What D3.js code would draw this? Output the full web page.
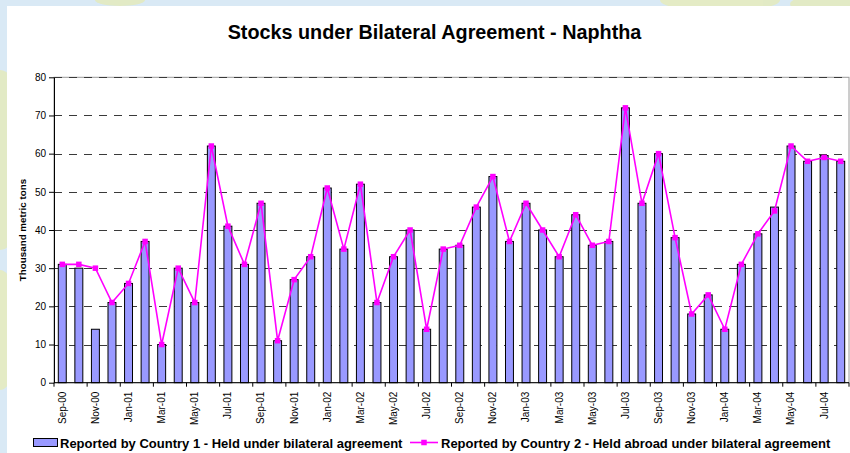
<!DOCTYPE html>
<html>
<head>
<meta charset="utf-8">
<script src="https://cdn.jsdelivr.net/npm/d3@7"></script>
<style>
  html, body { margin: 0; padding: 0; background: #fff; }
  svg { display: block; font-family: Arial, "Liberation Sans", sans-serif; }
</style>
</head>
<body>
<svg id="chart" width="850" height="453"></svg>
<script>
// Monthly categories, Sep 2000 to Aug 2004
const months = [
  "Sep-00","Oct-00","Nov-00","Dec-00","Jan-01","Feb-01","Mar-01","Apr-01","May-01","Jun-01","Jul-01","Aug-01",
  "Sep-01","Oct-01","Nov-01","Dec-01","Jan-02","Feb-02","Mar-02","Apr-02","May-02","Jun-02","Jul-02","Aug-02",
  "Sep-02","Oct-02","Nov-02","Dec-02","Jan-03","Feb-03","Mar-03","Apr-03","May-03","Jun-03","Jul-03","Aug-03",
  "Sep-03","Oct-03","Nov-03","Dec-03","Jan-04","Feb-04","Mar-04","Apr-04","May-04","Jun-04","Jul-04","Aug-04"
];

// Country 1: held under bilateral agreement (thousand metric tons)
const country1 = [
  31, 30, 14, 21, 26, 37, 10, 30, 21, 62, 41, 31,
  47, 11, 27, 33, 51, 35, 52, 21, 33, 40, 14, 35,
  36, 46, 54, 37, 47, 40, 33, 44, 36, 37, 72, 47,
  60, 38, 18, 23, 14, 31, 39, 46, 62, 58, 59.5, 58
];

// Country 2: held abroad under bilateral agreement (thousand metric tons)
const country2 = [
  31, 31, 30, 21, 26, 37, 10, 30, 21, 62, 41, 31,
  47, 11, 27, 33, 51, 35, 52, 21, 33, 40, 14, 35,
  36, 46, 54, 37, 47, 40, 33, 44, 36, 37, 72, 47,
  60, 38, 18, 23, 14, 31, 39, 45, 62, 58, 59, 58
];

const yTicks = [0, 10, 20, 30, 40, 50, 60, 70, 80];
const tickLabels = months.filter((m, i) => i % 2 === 0);

const title = "Stocks under Bilateral Agreement - Naphtha";
const yTitle = "Thousand metric tons";
const legend1 = "Reported by Country 1 - Held under bilateral agreement";
const legend2 = "Reported by Country 2 - Held abroad under bilateral agreement";

const barFill = "#9999ff";
const lineColor = "#ff00ff";

const svg = d3.select("#chart");
const W = 850, H = 453;

// Page backdrop: pale blue with faint map-like patches, white panel on top
svg.append("rect").attr("width", W).attr("height", H).attr("fill", "#d9e9f5");
const blobs = svg.append("g").attr("fill", "#e4ebc0").attr("opacity", 0.9);
[[0, 160, 30, 90], [0, 330, 20, 60], [720, 0, 60, 12], [830, 4, 40, 10], [120, 0, 25, 6]].forEach(([cx, cy, rx, ry]) => {
  blobs.append("ellipse").attr("cx", cx).attr("cy", cy).attr("rx", rx).attr("ry", ry);
});
svg.append("rect").attr("x", 7).attr("y", 6).attr("width", W - 7).attr("height", H - 6).attr("fill", "#fff");

const plot = { left: 54, right: 849, top: 77.3, bottom: 382.7 };

const x = d3.scaleBand().domain(months).range([plot.left, plot.right]).padding(0);
const y = d3.scaleLinear().domain([0, 80]).range([plot.bottom, plot.top]);

// Plot area frame
svg.append("rect")
  .attr("x", plot.left).attr("y", plot.top)
  .attr("width", plot.right - plot.left).attr("height", plot.bottom - plot.top)
  .attr("fill", "#fff").attr("stroke", "#9a9a9a").attr("stroke-width", 1);

// Dashed gridlines
svg.append("g")
  .selectAll("line")
  .data(yTicks.filter(d => d > 0))
  .join("line")
  .attr("x1", plot.left).attr("x2", plot.right)
  .attr("y1", d => Math.round(y(d)) + 0.5).attr("y2", d => Math.round(y(d)) + 0.5)
  .attr("stroke", "#3a3a3a").attr("stroke-width", 1)
  .attr("stroke-dasharray", "8,7");

// Title
svg.append("text")
  .attr("x", 434.5).attr("y", 39)
  .attr("text-anchor", "middle")
  .attr("font-size", 19.8).attr("font-weight", "bold")
  .text(title);

// Y axis
const yAxis = d3.axisLeft(y).tickValues(yTicks).tickSize(5).tickPadding(3).tickSizeOuter(0);
const gy = svg.append("g").attr("transform", `translate(${plot.left},0)`).call(yAxis);
gy.select(".domain").attr("stroke", "#000");
gy.selectAll(".tick line").attr("stroke", "#000");
gy.selectAll(".tick text").attr("font-size", 10).attr("fill", "#000").attr("font-family", "Arial, 'Liberation Sans', sans-serif");

svg.append("text")
  .attr("transform", `translate(26,${(plot.top + plot.bottom) / 2}) rotate(-90)`)
  .attr("text-anchor", "middle")
  .attr("font-size", 9.8).attr("font-weight", "bold")
  .text(yTitle);

// Bars
const bw = x.bandwidth() * 0.48;
svg.append("g")
  .selectAll("rect")
  .data(months.map((m, i) => ({ m, v: country1[i] })))
  .join("rect")
  .attr("x", d => x(d.m) + (x.bandwidth() - bw) / 2)
  .attr("y", d => y(d.v))
  .attr("width", bw)
  .attr("height", d => y(0) - y(d.v))
  .attr("fill", barFill)
  .attr("stroke", "#000").attr("stroke-width", 1);

// X axis: ticks at every second category boundary
const gx = svg.append("g").attr("transform", `translate(0,${plot.bottom})`);
gx.append("line").attr("x1", plot.left).attr("x2", plot.right).attr("y1", 0).attr("y2", 0)
  .attr("stroke", "#000").attr("stroke-width", 1);
const boundaries = d3.range(0, months.length + 1, 2).map(i => i < months.length ? x(months[i]) : plot.right);
gx.selectAll("line.tk").data(boundaries).join("line").attr("class", "tk")
  .attr("x1", d => d).attr("x2", d => d).attr("y1", 0).attr("y2", 4)
  .attr("stroke", "#000");
gx.selectAll("text").data(tickLabels).join("text")
  .attr("transform", d => `translate(${x(d) + x.bandwidth() / 2 + 3.4},9) rotate(-90)`)
  .attr("text-anchor", "end")
  .attr("font-size", 10)
  .text(d => d);

// Line series with square markers
const line = d3.line()
  .x((d, i) => x(months[i]) + x.bandwidth() / 2)
  .y(d => y(d));
svg.append("path")
  .datum(country2)
  .attr("d", line)
  .attr("fill", "none")
  .attr("stroke", lineColor).attr("stroke-width", 1.6);
const ms = 5.5;
svg.append("g")
  .selectAll("rect")
  .data(country2)
  .join("rect")
  .attr("x", (d, i) => x(months[i]) + x.bandwidth() / 2 - ms / 2)
  .attr("y", d => y(d) - ms / 2)
  .attr("width", ms).attr("height", ms)
  .attr("fill", lineColor);

// Legend
const lg = svg.append("g");
lg.append("rect").attr("x", 33.5).attr("y", 438.5).attr("width", 24).attr("height", 8)
  .attr("fill", barFill).attr("stroke", "#000");
lg.append("text").attr("x", 60).attr("y", 447.5)
  .attr("font-size", 13).attr("font-weight", "bold").text(legend1);
lg.append("line").attr("x1", 410).attr("x2", 438).attr("y1", 442.5).attr("y2", 442.5)
  .attr("stroke", lineColor).attr("stroke-width", 1.6);
lg.append("rect").attr("x", 424 - ms / 2).attr("y", 442.5 - ms / 2).attr("width", ms).attr("height", ms)
  .attr("fill", lineColor);
lg.append("text").attr("x", 441).attr("y", 447.5)
  .attr("font-size", 13).attr("font-weight", "bold").text(legend2);
</script>
</body>
</html>
